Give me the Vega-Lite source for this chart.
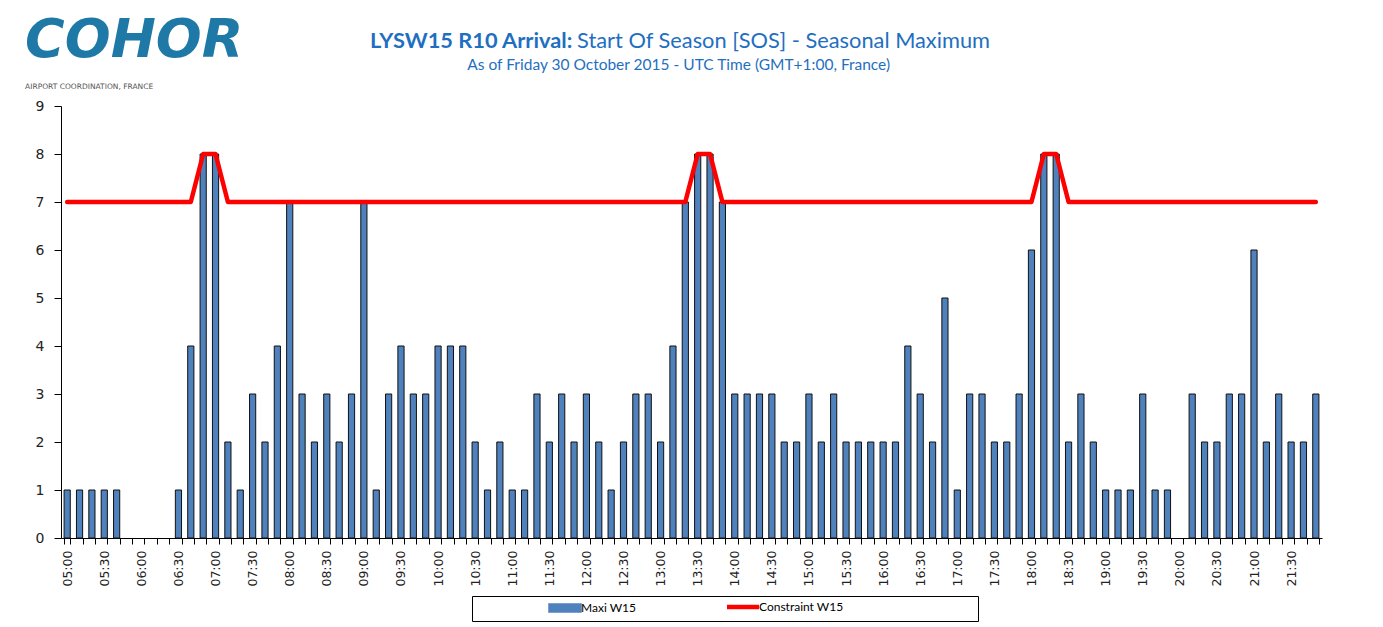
{
  "$schema": "https://vega.github.io/schema/vega-lite/v6.json",
  "background": "white",
  "padding": {"left": 25, "top": 13, "right": 20, "bottom": 5},
  "datasets": {
    "slots": [
      {"t": "05:00", "v": 1, "c": 7}, {"t": "05:10", "v": 1, "c": 7}, {"t": "05:20", "v": 1, "c": 7}, {"t": "05:30", "v": 1, "c": 7},
      {"t": "05:40", "v": 1, "c": 7}, {"t": "05:50", "v": 0, "c": 7}, {"t": "06:00", "v": 0, "c": 7}, {"t": "06:10", "v": 0, "c": 7},
      {"t": "06:20", "v": 0, "c": 7}, {"t": "06:30", "v": 1, "c": 7}, {"t": "06:40", "v": 4, "c": 7}, {"t": "06:50", "v": 8, "c": 8},
      {"t": "07:00", "v": 8, "c": 8}, {"t": "07:10", "v": 2, "c": 7}, {"t": "07:20", "v": 1, "c": 7}, {"t": "07:30", "v": 3, "c": 7},
      {"t": "07:40", "v": 2, "c": 7}, {"t": "07:50", "v": 4, "c": 7}, {"t": "08:00", "v": 7, "c": 7}, {"t": "08:10", "v": 3, "c": 7},
      {"t": "08:20", "v": 2, "c": 7}, {"t": "08:30", "v": 3, "c": 7}, {"t": "08:40", "v": 2, "c": 7}, {"t": "08:50", "v": 3, "c": 7},
      {"t": "09:00", "v": 7, "c": 7}, {"t": "09:10", "v": 1, "c": 7}, {"t": "09:20", "v": 3, "c": 7}, {"t": "09:30", "v": 4, "c": 7},
      {"t": "09:40", "v": 3, "c": 7}, {"t": "09:50", "v": 3, "c": 7}, {"t": "10:00", "v": 4, "c": 7}, {"t": "10:10", "v": 4, "c": 7},
      {"t": "10:20", "v": 4, "c": 7}, {"t": "10:30", "v": 2, "c": 7}, {"t": "10:40", "v": 1, "c": 7}, {"t": "10:50", "v": 2, "c": 7},
      {"t": "11:00", "v": 1, "c": 7}, {"t": "11:10", "v": 1, "c": 7}, {"t": "11:20", "v": 3, "c": 7}, {"t": "11:30", "v": 2, "c": 7},
      {"t": "11:40", "v": 3, "c": 7}, {"t": "11:50", "v": 2, "c": 7}, {"t": "12:00", "v": 3, "c": 7}, {"t": "12:10", "v": 2, "c": 7},
      {"t": "12:20", "v": 1, "c": 7}, {"t": "12:30", "v": 2, "c": 7}, {"t": "12:40", "v": 3, "c": 7}, {"t": "12:50", "v": 3, "c": 7},
      {"t": "13:00", "v": 2, "c": 7}, {"t": "13:10", "v": 4, "c": 7}, {"t": "13:20", "v": 7, "c": 7}, {"t": "13:30", "v": 8, "c": 8},
      {"t": "13:40", "v": 8, "c": 8}, {"t": "13:50", "v": 7, "c": 7}, {"t": "14:00", "v": 3, "c": 7}, {"t": "14:10", "v": 3, "c": 7},
      {"t": "14:20", "v": 3, "c": 7}, {"t": "14:30", "v": 3, "c": 7}, {"t": "14:40", "v": 2, "c": 7}, {"t": "14:50", "v": 2, "c": 7},
      {"t": "15:00", "v": 3, "c": 7}, {"t": "15:10", "v": 2, "c": 7}, {"t": "15:20", "v": 3, "c": 7}, {"t": "15:30", "v": 2, "c": 7},
      {"t": "15:40", "v": 2, "c": 7}, {"t": "15:50", "v": 2, "c": 7}, {"t": "16:00", "v": 2, "c": 7}, {"t": "16:10", "v": 2, "c": 7},
      {"t": "16:20", "v": 4, "c": 7}, {"t": "16:30", "v": 3, "c": 7}, {"t": "16:40", "v": 2, "c": 7}, {"t": "16:50", "v": 5, "c": 7},
      {"t": "17:00", "v": 1, "c": 7}, {"t": "17:10", "v": 3, "c": 7}, {"t": "17:20", "v": 3, "c": 7}, {"t": "17:30", "v": 2, "c": 7},
      {"t": "17:40", "v": 2, "c": 7}, {"t": "17:50", "v": 3, "c": 7}, {"t": "18:00", "v": 6, "c": 7}, {"t": "18:10", "v": 8, "c": 8},
      {"t": "18:20", "v": 8, "c": 8}, {"t": "18:30", "v": 2, "c": 7}, {"t": "18:40", "v": 3, "c": 7}, {"t": "18:50", "v": 2, "c": 7},
      {"t": "19:00", "v": 1, "c": 7}, {"t": "19:10", "v": 1, "c": 7}, {"t": "19:20", "v": 1, "c": 7}, {"t": "19:30", "v": 3, "c": 7},
      {"t": "19:40", "v": 1, "c": 7}, {"t": "19:50", "v": 1, "c": 7}, {"t": "20:00", "v": 0, "c": 7}, {"t": "20:10", "v": 3, "c": 7},
      {"t": "20:20", "v": 2, "c": 7}, {"t": "20:30", "v": 2, "c": 7}, {"t": "20:40", "v": 3, "c": 7}, {"t": "20:50", "v": 3, "c": 7},
      {"t": "21:00", "v": 6, "c": 7}, {"t": "21:10", "v": 2, "c": 7}, {"t": "21:20", "v": 3, "c": 7}, {"t": "21:30", "v": 2, "c": 7},
      {"t": "21:40", "v": 2, "c": 7}, {"t": "21:50", "v": 3, "c": 7}
    ]
  },
  "title": {
    "text": "COHOR",
    "subtitle": "AIRPORT COORDINATION, FRANCE",
    "anchor": "start",
    "frame": "bounds",
    "dx": -10,
    "offset": -59.5,
    "font": "DejaVu Sans",
    "fontSize": 54,
    "fontStyle": "italic",
    "fontWeight": "bold",
    "color": "#1E79A7",
    "subtitleFont": "DejaVu Sans",
    "subtitleFontSize": 7.5,
    "subtitleColor": "#555555",
    "subtitlePadding": 15
  },
  "vconcat": [
    {
      "title": {
        "text": "LYSW15 R10 Arrival:",
        "anchor": "start",
        "frame": "bounds",
        "dx": 335,
        "offset": -21.8,
        "font": "Lato",
        "fontSize": 21.8,
        "fontWeight": "bold",
        "color": "#1F6FC1"
      },
      "vconcat": [
        {
          "title": {
            "text": "Start Of Season [SOS] - Seasonal Maximum",
            "anchor": "start",
            "frame": "bounds",
            "dx": 542,
            "offset": 5.2,
            "font": "Lato",
            "fontSize": 21.8,
            "fontWeight": "normal",
            "color": "#1F6FC1"
          },
          "vconcat": [
            {
              "title": {
                "text": "As of Friday 30 October 2015 - UTC Time (GMT+1:00, France)",
                "anchor": "middle",
                "frame": "bounds",
                "offset": 26,
                "font": "Lato",
                "fontSize": 15.5,
                "fontWeight": "normal",
                "color": "#1F6FC1"
              },
              "width": 1261,
              "height": 432,
              "data": {"name": "slots"},
              "layer": [
                {
                  "mark": {"type": "bar", "stroke": "#111111", "strokeWidth": 1},
                  "encoding": {
                    "x": {
                      "field": "t",
                      "type": "nominal",
                      "sort": null,
                      "scale": {"paddingInner": 0.5, "paddingOuter": 0.25},
                      "axis": {
                        "title": null,
                        "labelAngle": -90,
                        "labelExpr": "(substring(datum.label,3,5) == '00' || substring(datum.label,3,5) == '30') ? datum.label : ''",
                        "labelOverlap": false,
                        "tickBand": "extent",
                        "tickSize": 6,
                        "labelPadding": 6,
                        "labelFont": "DejaVu Sans",
                        "labelFontSize": 12.5,
                        "labelColor": "#222222",
                        "domainColor": "#000000",
                        "tickColor": "#000000",
                        "grid": false
                      }
                    },
                    "y": {
                      "field": "v",
                      "type": "quantitative",
                      "scale": {"domain": [0, 9], "nice": false},
                      "axis": {
                        "title": null,
                        "values": [0, 1, 2, 3, 4, 5, 6, 7, 8, 9],
                        "tickSize": 7,
                        "labelPadding": 10,
                        "labelFont": "DejaVu Sans",
                        "labelFontSize": 14,
                        "labelColor": "#222222",
                        "domainColor": "#000000",
                        "tickColor": "#000000",
                        "grid": false
                      }
                    },
                    "strokeOpacity": {"condition": {"test": "datum.v == 0", "value": 0}, "value": 1},
                    "color": {
                      "datum": "Maxi W15",
                      "scale": {"domain": ["Maxi W15", "Constraint W15"], "range": ["#4F81BD", "#FF0000"]},
                      "legend": {
                        "orient": "none",
                        "legendX": 411,
                        "legendY": 490,
                        "direction": "horizontal",
                        "title": "\u00a0",
                        "titleOrient": "left",
                        "titleFontSize": 2,
                        "titlePadding": 82,
                        "padding": 5,
                        "strokeColor": "#000000",
                        "fillColor": "#FFFFFF",
                        "symbolSize": 1024,
                        "labelOffset": 10,
                        "columnPadding": 81,
                        "labelFont": "Lato",
                        "labelFontSize": 12,
                        "labelColor": "#000000",
                        "labelLimit": 400,
                        "labelExpr": "datum.value == 'Constraint W15' ? datum.label + ' \u2800\u2800\u2800\u2800\u2800\u2800\u2800\u2800\u2800\u2800\u2800\u2800\u2800\u2800' : datum.label",
                        "encoding": {
                          "symbols": {
                            "shape": {"value": {"expr": "datum.value == 'Maxi W15' ? 'M-1,-0.25H1V0.25H-1Z' : 'stroke'"}},
                            "fill": {"value": {"expr": "datum.value == 'Maxi W15' ? '#4F81BD' : 'transparent'"}},
                            "stroke": {"value": {"expr": "datum.value == 'Maxi W15' ? '#111111' : '#FF0000'"}},
                            "strokeWidth": {"value": {"expr": "datum.value == 'Maxi W15' ? 1.5 : 4.5"}},
                            "opacity": {"value": 1}
                          }
                        }
                      }
                    }
                  }
                },
                {
                  "mark": {"type": "line", "strokeWidth": 4.5, "strokeCap": "round", "strokeJoin": "round"},
                  "encoding": {
                    "x": {"field": "t", "type": "nominal", "sort": null},
                    "y": {"field": "c", "type": "quantitative"},
                    "color": {"datum": "Constraint W15"}
                  }
                }
              ]
            }
          ]
        }
      ]
    }
  ],
  "config": {
    "view": {"stroke": null}
  }
}
